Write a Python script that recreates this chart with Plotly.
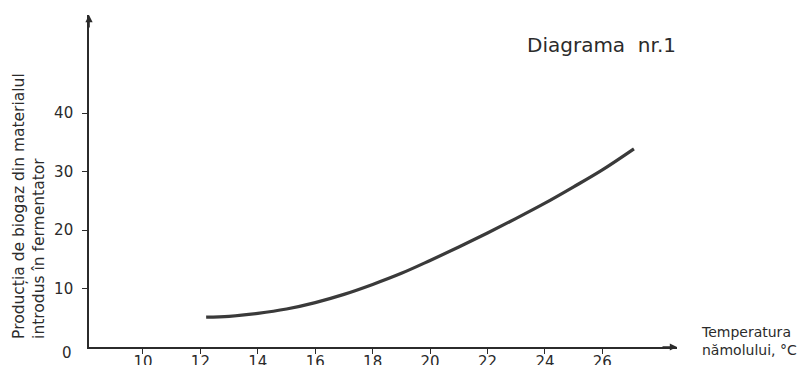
import plotly.graph_objects as go

# Data
temp_c = [12.2, 13, 14, 15, 16, 17, 18, 19, 20, 21, 22, 23, 24, 25, 26, 27.1]
biogas = [5.1, 5.25, 5.75, 6.5, 7.6, 9.0, 10.7, 12.6, 14.8, 17.1, 19.5, 22.0, 24.6, 27.4, 30.3, 33.9]
x_ticks = [10, 12, 14, 16, 18, 20, 22, 24, 26]
y_ticks = [10, 20, 30, 40]

INK = "#2b2b2b"
FONT = "DejaVu Sans"

fig = go.Figure()
fig.add_trace(go.Scatter(
    x=temp_c, y=biogas, mode="lines",
    line=dict(color="#3a3a3a", width=3.2, shape="spline", smoothing=1.0),
    hoverinfo="skip", showlegend=False,
))

# page body has an 8px margin, so the figure is sized to fit the 805x365 window
fig.update_layout(
    width=797, height=357,
    margin=dict(l=81, r=128, t=7, b=18, autoexpand=False),
    paper_bgcolor="white", plot_bgcolor="white",
    font=dict(family=FONT, color=INK),
    xaxis=dict(
        range=[8.12, 28.6], tickvals=x_ticks, ticktext=[str(v) for v in x_ticks],
        showgrid=False, zeroline=False, showline=True, linecolor=INK, linewidth=1.6,
        ticks="outside", ticklen=5, tickwidth=1.2, tickcolor=INK,
        tickfont=dict(size=15, family=FONT, color=INK), automargin=False,
        ticklabelstandoff=-5,
    ),
    yaxis=dict(
        range=[0, 56.8], tickvals=y_ticks, ticktext=[str(v) for v in y_ticks],
        showgrid=False, zeroline=False, showline=True, linecolor=INK, linewidth=1.6,
        ticks="outside", ticklen=5, tickwidth=1.2, tickcolor=INK,
        tickfont=dict(size=15, family=FONT, color=INK),
        ticklabelstandoff=6, automargin=False,
    ),
)

ann = [
    dict(text="0", xref="paper", yref="paper", x=-0.0255, y=-0.018,
         xanchor="right", yanchor="middle", showarrow=False,
         font=dict(size=15, family=FONT, color=INK)),
    dict(text="Diagrama  nr.1", xref="paper", yref="paper", x=0.872, y=0.91,
         xanchor="center", yanchor="middle", showarrow=False,
         font=dict(size=20, family=FONT, color=INK)),
    dict(text="Temperatura<br>nămolului, °C", xref="paper", yref="paper", x=1.037, y=0.017,
         xanchor="left", yanchor="middle", align="left", showarrow=False,
         font=dict(size=14, family=FONT, color=INK)),
    dict(text="Producția de biogaz din materialul<br>introdus în fermentator",
         xref="paper", yref="paper", x=-0.102, y=0.425, textangle=-90,
         xanchor="center", yanchor="middle", align="left", showarrow=False,
         font=dict(size=15.5, family=FONT, color=INK)),
    # axis arrowheads
    dict(xref="paper", yref="paper", x=0, y=1.0, ax=0, ay=14, axref="pixel", ayref="pixel",
         text="", showarrow=True, arrowhead=2, arrowsize=0.9, arrowwidth=1.6, arrowcolor=INK),
    dict(xref="paper", yref="paper", x=1.0, y=0, ax=-16, ay=0, axref="pixel", ayref="pixel",
         text="", showarrow=True, arrowhead=2, arrowsize=0.9, arrowwidth=1.6, arrowcolor=INK),
]
fig.update_layout(annotations=ann)

fig.write_html("out.html")
